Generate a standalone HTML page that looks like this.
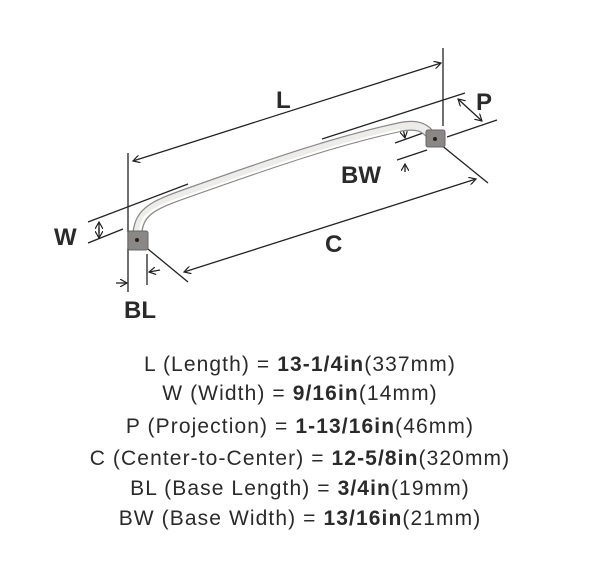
<!DOCTYPE html>
<html><head><style>
html,body{margin:0;padding:0;background:#fff;width:600px;height:572px;overflow:hidden}
svg{position:absolute;left:0;top:0}
.t{position:absolute;left:0;width:600px;text-align:center;font-family:"Liberation Sans",sans-serif;font-size:21px;color:#2a2a2a;white-space:nowrap;letter-spacing:1.1px}
.t b{font-weight:bold}
</style></head><body>
<svg width="600" height="340" viewBox="0 0 600 340">
<defs><marker id="a" markerWidth="8" markerHeight="8" refX="7" refY="4" orient="auto-start-reverse" markerUnits="userSpaceOnUse"><path d="M0,0 L7,4 L0,8" fill="none" stroke="#222" stroke-width="1.2"/></marker></defs>
<g stroke="#222" stroke-width="1.3" fill="none">
<line x1="128" y1="153" x2="128" y2="292"/>
<line x1="443" y1="48" x2="443" y2="126"/>
<line x1="133" y1="161" x2="441" y2="63" marker-start="url(#a)" marker-end="url(#a)"/>
<line x1="322" y1="139" x2="465" y2="93"/>
<line x1="447" y1="137" x2="497" y2="120"/>
<line x1="458" y1="99" x2="482" y2="121" marker-start="url(#a)" marker-end="url(#a)"/>
<line x1="137" y1="240" x2="188" y2="282"/>
<line x1="435" y1="140" x2="488" y2="183"/>
<line x1="184" y1="272" x2="476" y2="179" marker-start="url(#a)" marker-end="url(#a)"/>
<line x1="395" y1="143" x2="423" y2="133"/>
<line x1="397" y1="160" x2="427" y2="150"/>
<line x1="405" y1="172" x2="405" y2="164" marker-end="url(#a)"/>
<line x1="88" y1="222" x2="188" y2="184"/>
<line x1="88" y1="243" x2="123" y2="229"/>
<line x1="99" y1="233" x2="99" y2="222" marker-end="url(#a)"/>
<line x1="99" y1="228" x2="99" y2="238" marker-end="url(#a)"/>
<line x1="147" y1="254" x2="147" y2="285"/>
<line x1="116" y1="283" x2="127" y2="283" marker-end="url(#a)"/>
<line x1="160" y1="270" x2="149" y2="272" marker-end="url(#a)"/>
<line x1="403" y1="128" x2="405" y2="138" marker-end="url(#a)"/>
</g>
<path d="M137,238 C138,212 150,206 190,192 C280,160 340,140 400,127 C415,124 425,126 432,137" fill="none" stroke="#8a8a8a" stroke-width="10" stroke-linecap="round"/>
<path d="M137,238 C138,212 150,206 190,192 C280,160 340,140 400,127 C415,124 425,126 432,137" fill="none" stroke="#eeece8" stroke-width="7.5" stroke-linecap="round"/>
<path d="M140,232 C141,214 152,208 190,195 C280,163 340,143 400,130" fill="none" stroke="#fff" stroke-width="2"/>
<rect x="128" y="231" width="20" height="19" rx="2" fill="#8a8785" stroke="#666"/>
<circle cx="137" cy="240" r="2" fill="#222"/>
<rect x="426" y="130" width="19" height="17" rx="2" fill="#8a8785" stroke="#666"/>
<circle cx="435" cy="139" r="2" fill="#222"/>
<g font-family="Liberation Sans,sans-serif" font-size="24" font-weight="bold" fill="#2a2a2a">
<text x="276" y="108">L</text>
<text x="476" y="110">P</text>
<text x="341" y="183">BW</text>
<text x="325" y="252">C</text>
<text x="54" y="245">W</text>
<text x="124" y="318">BL</text>
</g>
</svg>
<div class="t" style="top:353px">L (Length) = <b>13-1/4in</b>(337mm)</div>
<div class="t" style="top:382px">W (Width) = <b>9/16in</b>(14mm)</div>
<div class="t" style="top:415px">P (Projection) = <b>1-13/16in</b>(46mm)</div>
<div class="t" style="top:447px">C (Center-to-Center) = <b>12-5/8in</b>(320mm)</div>
<div class="t" style="top:477px">BL (Base Length) = <b>3/4in</b>(19mm)</div>
<div class="t" style="top:507px">BW (Base Width) = <b>13/16in</b>(21mm)</div>
</body></html>
